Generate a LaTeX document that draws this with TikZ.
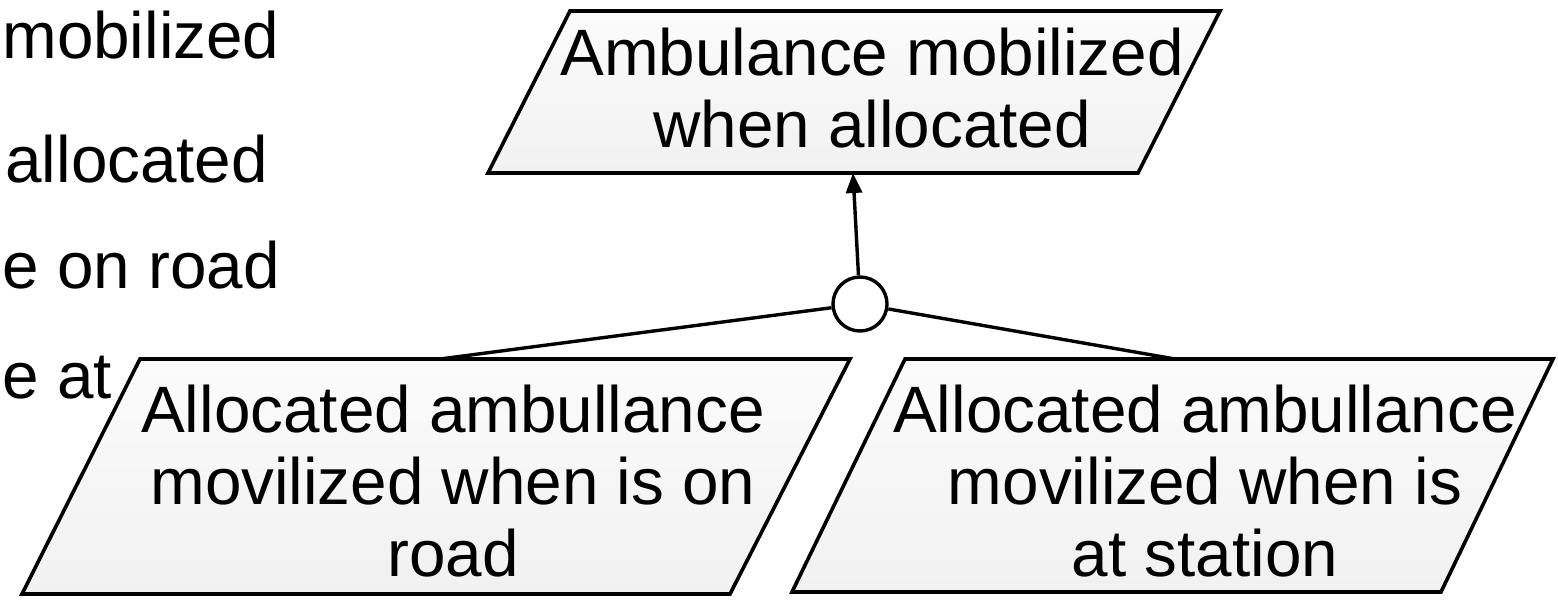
\documentclass[tikz,border=0pt]{standalone}
\usepackage{fontspec}
\setmainfont{Liberation Sans}
\usetikzlibrary{arrows.meta}

\tikzset{
  goalbox/.style={draw=black, line width=1.8pt, line join=miter,
    top color=gray!3, bottom color=gray!11},
  goaltext/.style={inner sep=0pt, align=center, anchor=north,
    font=\fontsize{32.8}{36}\selectfont},
  sidetext/.style={inner sep=0pt, anchor=base west,
    font=\fontsize{32.8}{36}\selectfont},
  link/.style={draw=black, line width=1.7pt},
  orgate/.style={circle, draw=black, line width=1.7pt, fill=white,
    minimum size=27pt, inner sep=0pt},
}

\begin{document}
\begin{tikzpicture}[x=0.5pt, y=-0.5pt]
  \useasboundingbox (0,0) rectangle (1558,605);

  % fragments of a neighbouring goal
  \node[sidetext] (f1) at (2,58)  {mobilized};
  \node[sidetext] (f2) at (5,182) {allocated};
  \node[sidetext] (f3) at (2,288) {e on road};
  \node[sidetext] (f4) at (2,398) {e at};

  % parent goal
  \path[goalbox] (570,11) -- (1220,11) -- (1138,173) -- (488,173) -- cycle;
  \coordinate (topin) at (853,173);
  \node[goaltext] (top) at (872,28) {Ambulance mobilized\\when allocated};

  % sub-goals
  \path[goalbox] (140,359) -- (850,359) -- (730,594) -- (22,594) -- cycle;
  \coordinate (leftin) at (440,359);
  \node[goaltext] (left) at (453,385) {Allocated ambullance\\movilized when is on\\road};

  \path[goalbox] (905,359) -- (1553,359) -- (1441,592) -- (792,592) -- cycle;
  \coordinate (rightin) at (1175,359);
  \node[goaltext] (right) at (1205,385) {Allocated ambullance\\movilized when is\\at station};

  % OR refinement
  \node[orgate] (or) at (860,304) {};
  \draw[link] (or) -- (leftin);
  \draw[link] (or) -- (rightin);
  \draw[link, -{Triangle[length=10pt, width=8pt]}] (or) -- (topin);
\end{tikzpicture}
\end{document}
